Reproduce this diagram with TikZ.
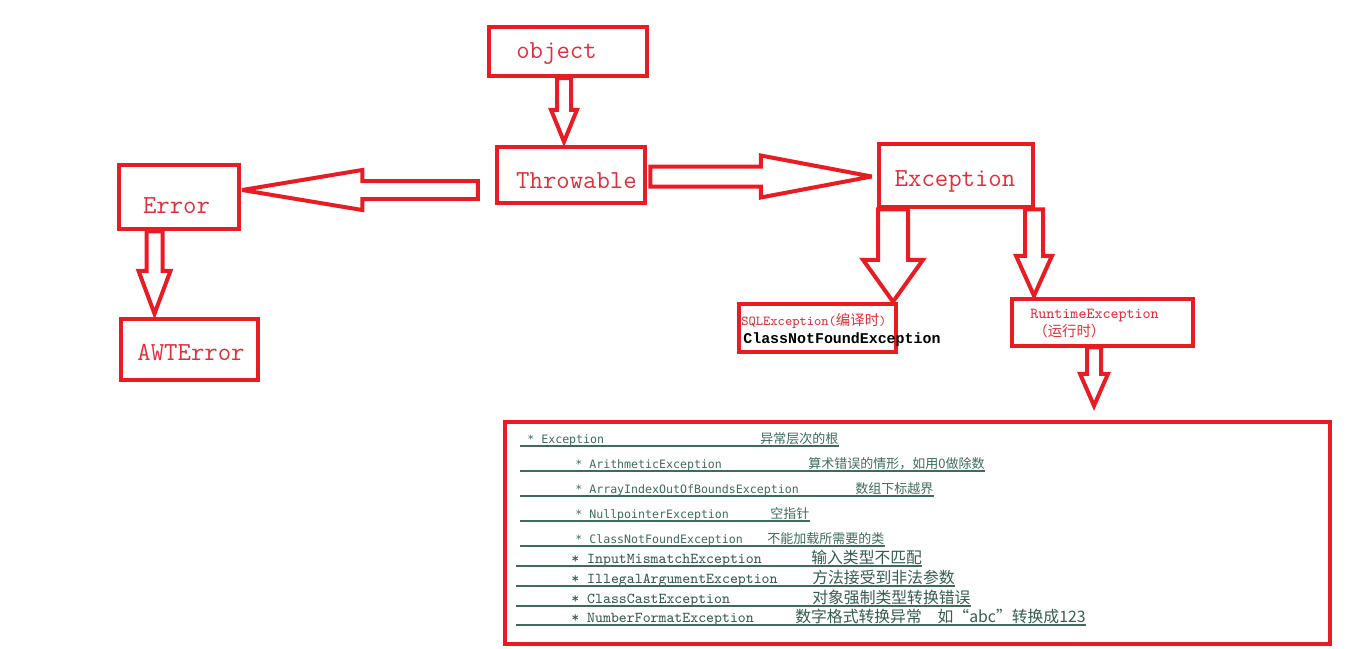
\documentclass[tikz,border=0pt]{standalone}
\usepackage{fontspec}
\newfontfamily\cjk{Noto Sans CJK SC}
\newfontfamily\sansmono{DejaVu Sans Mono}
\newfontfamily\boldmono{Liberation Mono}
\usetikzlibrary{calc}
\definecolor{boxred}{RGB}{233,28,36}
\definecolor{txtred}{RGB}{222,48,58}
\definecolor{listgreen}{RGB}{62,108,92}
% 空心箭头: 起点, 终点, 杆半宽, 头半宽, 头长 (单位 px)
\newcommand\hollowarr[5]{%
  \path (#1) coordinate (ha) (#2) coordinate (hb);
  \path ($(hb)!#5*0.02cm!(ha)$) coordinate (hh);
  \draw[arr] ($(ha)!#3*0.02cm!90:(hb)$) -- ($(hh)!#3*0.02cm!-90:(ha)$)
    -- ($(hh)!#4*0.02cm!-90:(ha)$) -- (hb) -- ($(hh)!#4*0.02cm!90:(ha)$)
    -- ($(hh)!#3*0.02cm!90:(ha)$) -- ($(ha)!#3*0.02cm!-90:(hb)$) -- cycle;
}
\begin{document}
\begin{tikzpicture}[x=0.02cm,y=-0.02cm,
    box/.style={draw=boxred,line width=0.09cm,inner sep=0pt},
    sz/.style 2 args={minimum width=#1*0.02cm,minimum height=#2*0.02cm},
    arr/.style={draw=boxred,line width=0.08cm,line join=miter,miter limit=4},
    big/.style={font=\ttfamily\fontsize{14.8}{16}\selectfont,text=txtred,anchor=base,inner sep=0pt},
    small/.style={text=txtred,anchor=base west,inner sep=0pt},
    lsta/.style={font=\sansmono\fontsize{6.6}{8}\selectfont,text=listgreen,anchor=base west,inner sep=0pt},
    lstb/.style={font=\ttfamily\fontsize{8.6}{10}\selectfont,text=listgreen!85!black,anchor=base west,inner sep=0pt},
    ln/.style={draw=listgreen,line width=0.03cm}]
  \useasboundingbox (0,0) rectangle (1349,649);
  % 方框
  \node[box,sz={158}{49}] (obj) at (568,51.5) {};
  \node[box,sz={148}{56}] (thr) at (571,175) {};
  \node[box,sz={120}{64}] (err) at (179,197) {};
  \node[box,sz={137}{61}] (awt) at (189.5,349.5) {};
  \node[box,sz={154}{63}] (exc) at (956,175.5) {};
  \node[box,sz={181}{47}] (rt) at (1102.5,322.5) {};
  \node[box,sz={825}{222}] (lst) at (917.5,533) {};
  % 方框文字
  \node[big] (objt) at (556.5,58) {object};
  \node[big] (thrt) at (576.5,188) {Throwable};
  \node[big] (errt) at (176.5,213) {Error};
  \node[big] (awtt) at (191,360) {AWTError};
  \node[big] (exct) at (955,186) {Exception};
  \node[small,font=\ttfamily\fontsize{7.8}{9}\selectfont] (sqlt) at (741,325)
    {SQLException({\cjk\fontsize{8.2}{9}\selectfont 编译时})};
  \node[box,sz={157}{48}] (sql) at (817.5,328) {};
  \node[small,text=black,font=\boldmono\bfseries\fontsize{8.5}{10}\selectfont] (cnf) at (743,343)
    {ClassNotFoundException};
  \node[small,font=\ttfamily\fontsize{8.7}{10}\selectfont] (rtt) at (1030,318) {RuntimeException};
  \node[small,font=\cjk\fontsize{8.2}{10}\selectfont] (rtc) at (1033,336) {（运行时）};
  % 箭头
  \hollowarr{$(obj.south)+(-4,0)$}{$(thr.north)+(-7,-3)$}{7}{13}{32}
  \hollowarr{$(thr.west)+(-17,15)$}{$(err.east)+(1,-7)$}{9}{20}{120}
  \hollowarr{$(thr.east)+(3,1.5)$}{$(exc.west)+(-5,1)$}{10}{21}{111}
  \hollowarr{$(err.south)+(-24.5,0)$}{$(awt.north)+(-35,-3)$}{8}{16}{43}
  \hollowarr{$(exc.south)+(-63,0)$}{$(sql.north)+(75.5,0)$}{15}{30}{42}
  \hollowarr{$(exc.south)+(78,0)$}{$(rt.north)+(-68.5,-1)$}{9}{18}{40}
  \hollowarr{$(rt.south)+(-8.5,-1)$}{$(lst.north)+(176.5,-14)$}{7}{14}{32}
  % 异常列表
  \foreach \y/\ax/\a/\bx/\b [count=\i] in {
      443/527/* Exception/760/异常层次的根,
      468/575/* ArithmeticException/808/算术错误的情形，如用0做除数,
      493/575/* ArrayIndexOutOfBoundsException/855/数组下标越界,
      518/575/* NullpointerException/770/空指针,
      543/575/* ClassNotFoundException/767/不能加载所需要的类}{
    \node[lsta] (ea\i) at (\ax,\y) {\a};
    \node[lsta,font=\cjk\fontsize{7.4}{9}\selectfont] (ca\i) at (\bx,\y) {\b};
    \draw[ln] ($(ca\i.base east)+(0,3)$) -- (520,\y+3);
  }
  \foreach \y/\a/\bx/\b [count=\i] in {
      563/* InputMismatchException/811/输入类型不匹配,
      583/* IllegalArgumentException/812/方法接受到非法参数,
      603/* ClassCastException/812/对象强制类型转换错误,
      622/* NumberFormatException/795/数字格式转换异常　如“abc”转换成123}{
    \node[lstb] (eb\i) at (571,\y) {\a};
    \node[lstb,font=\cjk\fontsize{9}{10}\selectfont] (cb\i) at (\bx,\y) {\b};
    \draw[ln] ($(cb\i.base east)+(0,3)$) -- (516,\y+3);
  }
\end{tikzpicture}
\end{document}
